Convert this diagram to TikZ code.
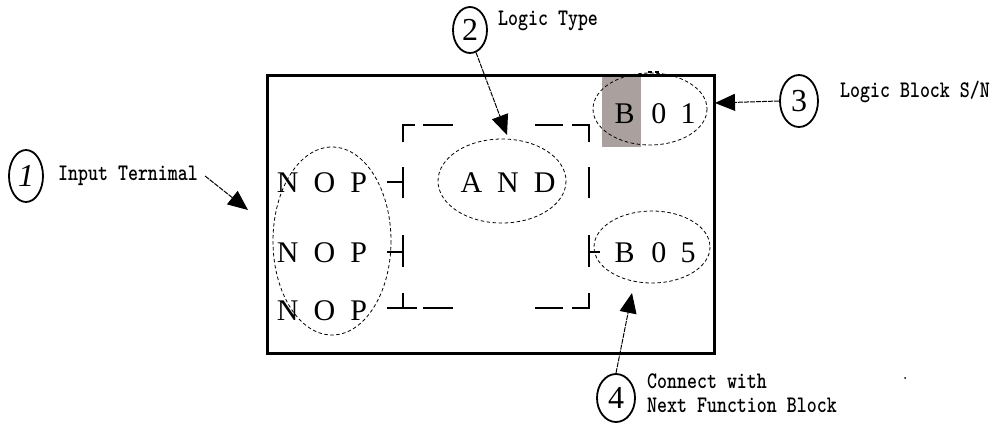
\documentclass[tikz,border=0pt]{standalone}
\usepackage{fontspec}
\setmainfont{Liberation Serif}
\usetikzlibrary{arrows.meta,shapes.geometric}
\newcommand{\lettergap}{\hspace{15pt}}
\newcommand{\tallt}[1]{\scalebox{1}[1.25]{#1}}
\tikzset{
  big/.style={font=\fontsize{30}{31}\selectfont, inner sep=0pt, anchor=base},
  lbl/.style={font=\ttfamily\bfseries\fontsize{19}{20}\selectfont, inner sep=0pt, anchor=west, align=left},
  num/.style={draw, ellipse, line width=1.8pt, inner sep=0pt, font=\fontsize{32}{32}\selectfont},
  dring/.style={draw, line width=0.8pt, dash pattern=on 3.5pt off 2.5pt},
  pointer/.style={line width=1pt, dash pattern=on 5pt off 1pt, -{Triangle[length=20pt,width=17pt]}},
  thickdash/.style={line width=2.8pt}
}
\begin{document}
\begin{tikzpicture}[x=1pt,y=-1pt]
\useasboundingbox (0,0) rectangle (998,424);
% gray highlight
\fill[fill={rgb,255:red,170;green,160;blue,157}] (602,75) rectangle (641,147);
% main frame
\draw[line width=3pt] (267,75) rectangle (714,353);
\draw[line width=1.5pt] (648,72) -- (652,72) (655,72) -- (659,72);
\fill (905,378) circle (1pt);
% dashed logic box
\draw[thickdash] (415,125) -- (403,125) -- (403,142);
\draw[thickdash] (423,125) -- (453,125);
\draw[thickdash] (535,125) -- (563,125);
\draw[thickdash] (572,125) -- (589,125) -- (589,142);
\draw[thickdash] (403,167) -- (403,198);
\draw[thickdash] (387,182) -- (403,182);
\draw[thickdash] (403,235) -- (403,267);
\draw[thickdash] (387,252) -- (403,252);
\draw[thickdash] (403,293) -- (403,308);
\draw[thickdash] (387,308) -- (417,308);
\draw[thickdash] (423,308) -- (453,308);
\draw[thickdash] (535,308) -- (563,308);
\draw[thickdash] (572,308) -- (589,308) -- (589,293);
\draw[thickdash] (589,167) -- (589,198);
\draw[thickdash] (589,235) -- (589,267);
\draw[thickdash] (589,252) -- (600,252);
% texts
\node[big] (nop1) at (322,192) {N\lettergap O\lettergap P};
\node[big] (nop2) at (322,262) {N\lettergap O\lettergap P};
\node[big] (nop3) at (322,320) {N\lettergap O\lettergap P};
\node[big] (and) at (508,192) {A\hspace{15pt}N\hspace{15pt}D};
\node[big] (b01) at (655,123) {B\hspace{17pt}0\hspace{14pt}1};
\node[big] (b05) at (655,262) {B\hspace{17pt}0\hspace{14pt}5};
% dashed ellipses
\draw[dring] (332,241) ellipse [x radius=59, y radius=94];
\draw[dring] (502,181) ellipse [x radius=64, y radius=42];
\draw[dring] (650,109) ellipse [x radius=57, y radius=36];
\draw[dring] (652,247) ellipse [x radius=58, y radius=36];
% numbered callouts
\node[num, minimum width=34pt, minimum height=52pt] (c1) at (26,176) {\textit{1}};
\node[num, minimum width=34pt, minimum height=46pt] (c2) at (470,30) {2};
\node[num, minimum width=38pt, minimum height=52pt] (c3) at (799,101) {3};
\node[num, minimum width=38pt, minimum height=48pt] (c4) at (616,398) {4};
\node[lbl] (t1) at (58,176) {\tallt{Input Ternimal}};
\node[lbl] (t2) at (498,21) {\tallt{Logic Type}};
\node[lbl] (t3) at (840,92) {\tallt{Logic Block S/N}};
\node[lbl, anchor=north west] (t4) at (647,374) {\tallt{Connect with}\\[4pt]\tallt{Next Function Block}};
% pointer targets
\coordinate (p1) at (248,210);
\coordinate (p2) at (507,135);
\coordinate (p3) at (715,103);
\coordinate (p4) at (632,293);
\draw[pointer] ([xshift=7pt]t1.east) -- (p1);
\draw[pointer] (c2.-75) -- (p2);
\draw[pointer] (c3.west) -- (p3);
\draw[pointer] (c4.north) -- (p4);
\end{tikzpicture}
\end{document}
